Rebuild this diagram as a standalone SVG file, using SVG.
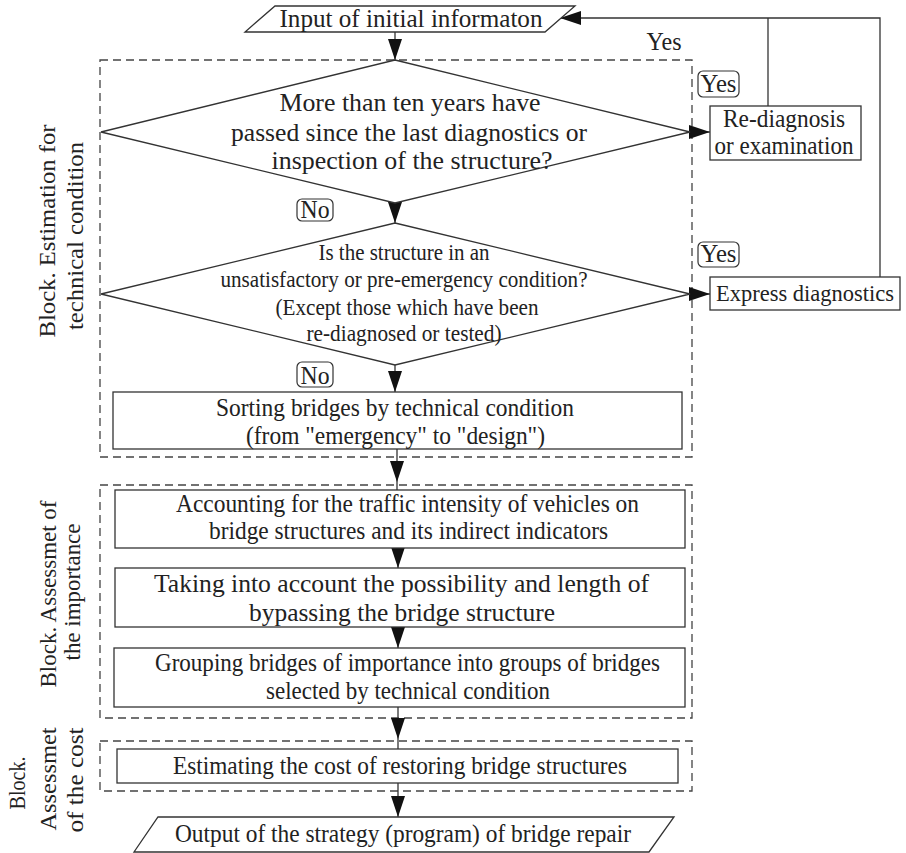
<svg xmlns="http://www.w3.org/2000/svg" width="906" height="853" viewBox="0 0 906 853">
<style>
.s{fill:#fff;stroke:#333;stroke-width:1.3}
.d{fill:none;stroke:#444;stroke-width:1.3;stroke-dasharray:8 5}
.c{fill:none;stroke:#333;stroke-width:1.3}
.l{fill:#fff;stroke:#333;stroke-width:1.2}
text{font-family:"Liberation Serif","Times New Roman",serif;fill:#222;font-size:26px;text-anchor:middle}
.sm{font-size:24px}
.v{font-size:24px}
</style>
<defs>
<marker id="a" markerUnits="userSpaceOnUse" markerWidth="22" markerHeight="16" refX="21" refY="7" orient="auto">
<path d="M0,0 L21,7 L0,14 z" fill="#111"/>
</marker>
</defs>
<rect width="906" height="853" fill="#fff"/>

<g id="block1"><rect class="d" x="100" y="60" width="592" height="397"/></g>
<g id="block2"><rect class="d" x="100" y="485" width="592" height="233"/></g>
<g id="block3"><rect class="d" x="100" y="741" width="592" height="50"/></g>

<g id="labels">
<text class="v" transform="translate(55,231) rotate(-90)" textLength="213" lengthAdjust="spacingAndGlyphs">Block. Estimation for</text>
<text class="v" transform="translate(83,236) rotate(-90)" textLength="188" lengthAdjust="spacingAndGlyphs">technical condition</text>
<text class="v" transform="translate(56,594) rotate(-90)" textLength="187" lengthAdjust="spacingAndGlyphs">Block. Assessmet of</text>
<text class="v" transform="translate(80,592) rotate(-90)" textLength="137" lengthAdjust="spacingAndGlyphs">the importance</text>
<text class="v" transform="translate(25,783) rotate(-90)" textLength="53" lengthAdjust="spacingAndGlyphs">Block.</text>
<text class="v" transform="translate(56,779) rotate(-90)" textLength="103" lengthAdjust="spacingAndGlyphs">Assessmet</text>
<text class="v" transform="translate(83,780) rotate(-90)" textLength="105" lengthAdjust="spacingAndGlyphs">of the cost</text>
</g>

<g id="connectors">
<path class="c" d="M395,32 V60" marker-end="url(#a)"/>
<path class="c" d="M690,132 H710" marker-end="url(#a)"/>
<path class="c" d="M768,106 V18"/>
<path class="c" d="M880,278 V18 H560" marker-end="url(#a)"/>
<path class="c" d="M395,203 V223" marker-end="url(#a)"/>
<path class="c" d="M690,294 H710" marker-end="url(#a)"/>
<path class="c" d="M395,365 V392" marker-end="url(#a)"/>
<path class="c" d="M397,449 V482" marker-end="url(#a)"/>
<path class="c" d="M397,482 V490"/>
<path class="c" d="M398,548 V568" marker-end="url(#a)"/>
<path class="c" d="M398,627 V648" marker-end="url(#a)"/>
<path class="c" d="M398,707 V739" marker-end="url(#a)"/>
<path class="c" d="M398,739 V749"/>
<path class="c" d="M398,783 V817" marker-end="url(#a)"/>
</g>

<g id="input">
<polygon class="s" points="275,6 575,6 545,32 245,32"/>
<text x="411" y="27" textLength="263" lengthAdjust="spacingAndGlyphs">Input of initial informaton</text>
</g>

<g id="decision1">
<polygon class="s" points="395,60 690,132 395,203 101,132"/>
<text x="410" y="111" textLength="261" lengthAdjust="spacingAndGlyphs">More than ten years have</text>
<text x="409" y="141" textLength="356" lengthAdjust="spacingAndGlyphs">passed since the last diagnostics or</text>
<text x="412" y="169" textLength="281" lengthAdjust="spacingAndGlyphs">inspection of the structure?</text>
</g>

<g id="decision2">
<polygon class="s" points="395,223 690,294 395,365 101,294"/>
<text class="sm" x="404" y="260" textLength="171" lengthAdjust="spacingAndGlyphs">Is the structure in an</text>
<text class="sm" x="404" y="287" textLength="367" lengthAdjust="spacingAndGlyphs">unsatisfactory or pre-emergency condition?</text>
<text class="sm" x="407" y="315" textLength="263" lengthAdjust="spacingAndGlyphs">(Except those which have been</text>
<text class="sm" x="404" y="341" textLength="195" lengthAdjust="spacingAndGlyphs">re-diagnosed or tested)</text>
</g>

<g id="rediag">
<rect class="s" x="710" y="106" width="151" height="54"/>
<text x="784" y="127" textLength="122" lengthAdjust="spacingAndGlyphs">Re-diagnosis</text>
<text x="784" y="154" textLength="139" lengthAdjust="spacingAndGlyphs">or examination</text>
</g>

<g id="express">
<rect class="s" x="710" y="277" width="190" height="33"/>
<text class="sm" x="805" y="301" textLength="178" lengthAdjust="spacingAndGlyphs">Express diagnostics</text>
</g>

<g id="yes-top"><text x="664" y="50" textLength="35" lengthAdjust="spacingAndGlyphs">Yes</text></g>
<g id="yes1"><rect class="l" x="698" y="71" width="41" height="26" rx="5"/><text x="718.5" y="92" textLength="36" lengthAdjust="spacingAndGlyphs">Yes</text></g>
<g id="yes2"><rect class="l" x="698" y="242" width="41" height="25" rx="5"/><text x="718.5" y="262" textLength="36" lengthAdjust="spacingAndGlyphs">Yes</text></g>
<g id="no1"><rect class="l" x="297" y="199" width="36" height="22" rx="5"/><text x="315" y="218" textLength="29" lengthAdjust="spacingAndGlyphs">No</text></g>
<g id="no2"><rect class="l" x="297" y="362" width="36" height="25" rx="5"/><text x="315" y="384" textLength="29" lengthAdjust="spacingAndGlyphs">No</text></g>

<g id="sorting">
<rect class="s" x="113" y="392" width="569" height="57"/>
<text x="395" y="416" textLength="358" lengthAdjust="spacingAndGlyphs">Sorting bridges by technical condition</text>
<text x="395.5" y="444" textLength="299" lengthAdjust="spacingAndGlyphs">(from "emergency" to "design")</text>
</g>

<g id="accounting">
<rect class="s" x="115" y="490" width="570" height="58"/>
<text x="407.5" y="512" textLength="463" lengthAdjust="spacingAndGlyphs">Accounting for the traffic intensity of vehicles on</text>
<text x="408.5" y="539" textLength="399" lengthAdjust="spacingAndGlyphs">bridge structures and its indirect indicators</text>
</g>

<g id="taking">
<rect class="s" x="115" y="568" width="570" height="59"/>
<text x="401.5" y="592" textLength="495" lengthAdjust="spacingAndGlyphs">Taking into account the possibility and length of</text>
<text x="402" y="621" textLength="306" lengthAdjust="spacingAndGlyphs">bypassing the bridge structure</text>
</g>

<g id="grouping">
<rect class="s" x="114" y="648" width="571" height="59"/>
<text x="407.5" y="671" textLength="505" lengthAdjust="spacingAndGlyphs">Grouping bridges of importance into groups of bridges</text>
<text x="408" y="699" textLength="284" lengthAdjust="spacingAndGlyphs">selected by technical condition</text>
</g>

<g id="estimating">
<rect class="s" x="117" y="749" width="561" height="34"/>
<text x="400" y="774" textLength="454" lengthAdjust="spacingAndGlyphs">Estimating the cost of restoring bridge structures</text>
</g>

<g id="output">
<polygon class="s" points="158,817 674,817 649,852 134,852"/>
<text x="403" y="842" textLength="456" lengthAdjust="spacingAndGlyphs">Output of the strategy (program) of bridge repair</text>
</g>
</svg>
